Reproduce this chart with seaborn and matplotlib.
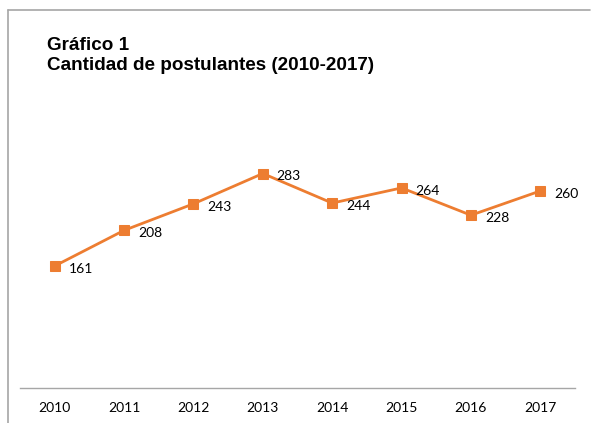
import matplotlib
matplotlib.use("Agg")
import matplotlib.pyplot as plt
import seaborn as sns
import pandas as pd
from matplotlib.lines import Line2D

years = ["2010", "2011", "2012", "2013", "2014", "2015", "2016", "2017"]
postulantes = [161, 208, 243, 283, 244, 264, 228, 260]
title_lines = ["Gráfico 1", "Cantidad de postulantes (2010-2017)"]

sns.set_theme(style="white")
plt.rcParams['font.family'] = ['Liberation Sans', 'DejaVu Sans']

W, H = 591, 423
fig = plt.figure(figsize=(W / 100, H / 100), dpi=100)
ax = fig.add_axes([20 / W, 1 - 388 / H, (575 - 20) / W, (388 - 100) / H])

df = pd.DataFrame({"x": range(len(years)), "y": postulantes})
color = "#ED7D31"
sns.lineplot(data=df, x="x", y="y", ax=ax, color=color, linewidth=2.0,
             marker="s", markersize=6.5, markeredgecolor=color, markerfacecolor=color)

for i, v in enumerate(postulantes):
    ax.annotate(str(v), (i, v), xytext=(10, -2), textcoords="offset points",
                ha="left", va="center", fontsize=10, family=["Lato", "DejaVu Sans"],
                color="#000000")

ax.set_xlim(-0.5, len(years) - 0.5)
ax.set_ylim(0, 380)
ax.set_xticks(range(len(years)))
ax.set_xticklabels(years, fontsize=10, family=["Lato", "DejaVu Sans"], color="#000000")
ax.tick_params(axis="x", length=0, pad=10)
ax.set_yticks([])
ax.set_xlabel("")
ax.set_ylabel("")
for s in ["top", "right", "left"]:
    ax.spines[s].set_visible(False)
ax.spines["bottom"].set_color("#A6A6A6")
ax.spines["bottom"].set_linewidth(1.0)
ax.set_facecolor("none")

# title
fig.text(47 / W, 1 - 45 / H, title_lines[0], fontsize=13.6, fontweight="bold", va="center", ha="left", color="#000000")
fig.text(47 / W, 1 - 65 / H, title_lines[1], fontsize=13.6, fontweight="bold", va="center", ha="left", color="#000000")

# chart frame (cropped border)
fig.add_artist(Line2D([8 / W, 590 / W], [1 - 10 / H, 1 - 10 / H], color="#A6A6A6", lw=1.2, transform=fig.transFigure))
fig.add_artist(Line2D([8 / W, 8 / W], [1 - 10 / H, 0], color="#A6A6A6", lw=1.2, transform=fig.transFigure))

fig.savefig("out.png", dpi=100)
